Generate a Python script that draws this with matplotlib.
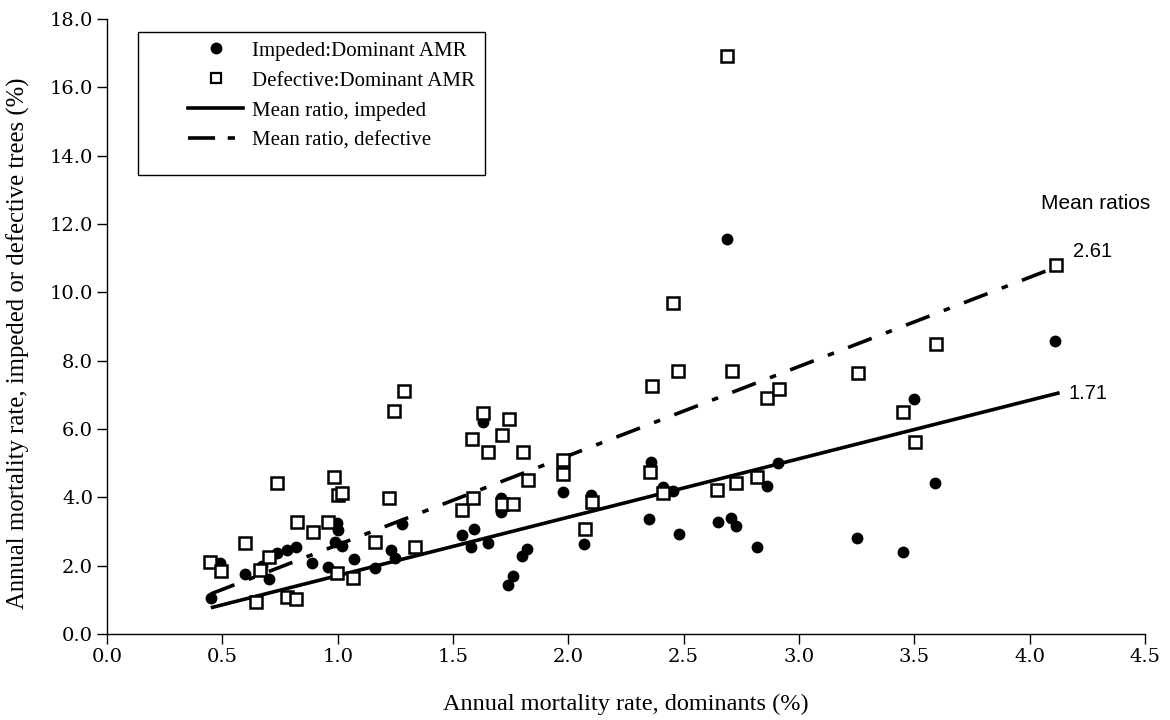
import matplotlib
matplotlib.use("Agg")
import matplotlib.pyplot as plt
from matplotlib.lines import Line2D
from matplotlib.patches import Rectangle
import numpy as np

# --- data -------------------------------------------------------------
imp_x = [0.45, 0.49, 0.60, 0.67, 0.70, 0.735, 0.78, 0.82, 0.89, 0.96,
         0.99, 1.02, 0.995, 1.00, 1.07, 1.16, 1.23, 1.25, 1.28, 1.54,
         1.59, 1.58, 1.65, 1.63, 1.71, 1.71, 1.82, 1.80, 1.76, 1.74,
         1.975, 2.07, 2.10, 2.36, 2.35, 2.41, 2.455, 2.48, 2.65, 2.705,
         2.725, 2.69, 2.82, 2.86, 2.91, 3.25, 3.45, 3.50, 3.59, 4.11]
imp_y = [1.04, 2.09, 1.76, 1.99, 1.61, 2.36, 2.46, 2.56, 2.07, 1.95,
         2.70, 2.58, 3.24, 3.04, 2.21, 1.92, 2.46, 2.22, 3.22, 2.90,
         3.06, 2.54, 2.67, 6.21, 3.97, 3.58, 2.48, 2.28, 1.70, 1.43,
         4.15, 2.63, 4.07, 5.03, 3.37, 4.29, 4.19, 2.93, 3.29, 3.39,
         3.17, 11.56, 2.56, 4.34, 5.01, 2.80, 2.41, 6.88, 4.41, 8.57]

def_x = [0.447, 0.493, 0.598, 0.663, 0.646, 0.70, 0.735, 0.78, 0.82, 0.822,
         0.894, 0.96, 0.985, 1.003, 1.02, 0.995, 1.068, 1.162, 1.224, 1.244,
         1.287, 1.335, 1.54, 1.581, 1.588, 1.628, 1.653, 1.711, 1.711, 1.744,
         1.759, 1.802, 1.823, 1.975, 1.975, 2.072, 2.101, 2.354, 2.361, 2.411,
         2.455, 2.474, 2.646, 2.69, 2.708, 2.725, 2.816, 2.862, 2.913, 3.254,
         3.449, 3.502, 3.593, 4.114]
def_y = [2.12, 1.85, 2.67, 1.87, 0.95, 2.24, 4.41, 1.07, 1.02, 3.27,
         2.98, 3.29, 4.61, 4.07, 4.14, 1.78, 1.63, 2.70, 3.97, 6.54,
         7.12, 2.56, 3.63, 5.71, 3.97, 6.46, 5.33, 5.82, 3.82, 6.28,
         3.80, 5.32, 4.51, 5.09, 4.68, 3.06, 3.87, 4.73, 7.26, 4.12,
         9.68, 7.71, 4.21, 16.93, 7.71, 4.41, 4.59, 6.90, 7.17, 7.65,
         6.49, 5.63, 8.49, 10.80]

line_x = [0.45, 4.13]
ratio_impeded = 1.71
ratio_defective = 2.61

x_ticks = [0.0, 0.5, 1.0, 1.5, 2.0, 2.5, 3.0, 3.5, 4.0, 4.5]
y_ticks = [0.0, 2.0, 4.0, 6.0, 8.0, 10.0, 12.0, 14.0, 16.0, 18.0]

# --- figure -----------------------------------------------------------
fig = plt.figure(figsize=(11.7, 7.2), dpi=100)
ax = fig.add_axes([0.0915, 0.1194, 0.8871, 0.8542])

lx = np.array(line_x)
ax.plot(lx, ratio_impeded * lx, color="black", lw=2.6, solid_capstyle="butt",
        zorder=2)
ax.plot(lx, ratio_defective * lx, color="black", lw=2.6,
        linestyle=(0, (7.0, 4.2, 1.8, 4.2)), dash_capstyle="butt", zorder=2)

ax.plot(imp_x, imp_y, linestyle="none", marker="o", markersize=7.5,
        markerfacecolor="black", markeredgecolor="black", zorder=3)
ax.plot(def_x, def_y, linestyle="none", marker="s", markersize=8.3,
        markerfacecolor="white", markeredgecolor="black", markeredgewidth=1.8,
        zorder=4)

ax.set_xlim(0, 4.5)
ax.set_ylim(0, 18)
ax.set_xticks(x_ticks)
ax.set_yticks(y_ticks)
ax.set_xticklabels([f"{v:.1f}" for v in x_ticks])
ax.set_yticklabels([f"{v:.1f}" for v in y_ticks])
for lab in ax.get_xticklabels() + ax.get_yticklabels():
    lab.set_fontfamily("DejaVu Serif")
    lab.set_fontsize(14)
ax.tick_params(direction="out", length=7, width=1, color="black", pad=3)
ax.spines["top"].set_visible(False)
ax.spines["right"].set_visible(False)
ax.spines["left"].set_linewidth(1)
ax.spines["bottom"].set_linewidth(1)

ax.set_xlabel("Annual mortality rate, dominants (%)", family="Liberation Serif",
              fontsize=17.5)
ax.set_ylabel("Annual mortality rate, impeded or defective trees (%)",
              family="Liberation Serif", fontsize=17.8)
ax.xaxis.set_label_coords(0.5, -0.097)
ax.yaxis.set_label_coords(-0.074, 0.472)

ax.text(4.05, 12.6, "Mean ratios", family="Liberation Sans", fontsize=15,
        va="center", ha="left")
ax.text(4.19, 11.2, f"{ratio_defective:.2f}", family="Liberation Sans",
        fontsize=14.5, va="center", ha="left")
ax.text(4.17, 7.05, f"{ratio_impeded:.2f}", family="Liberation Sans",
        fontsize=14.5, va="center", ha="left")

# legend box (drawn separately to match the reference padding)
ax.add_patch(Rectangle((0.0299, 0.746), 0.334, 0.233, transform=ax.transAxes,
                       facecolor="white", edgecolor="black", lw=1.0, zorder=5))

handles = [
    Line2D([], [], linestyle="none", marker="o", markersize=7.5,
           markerfacecolor="black", markeredgecolor="black"),
    Line2D([], [], linestyle="none", marker="s", markersize=7,
           markerfacecolor="white", markeredgecolor="black", markeredgewidth=1.6),
    Line2D([], [], color="black", lw=2.6),
    Line2D([], [], color="black", lw=2.6, linestyle=(0, (7.5, 3.5, 2.0, 3.5)),
           dash_capstyle="butt"),
]
labels = ["Impeded:Dominant AMR", "Defective:Dominant AMR",
          "Mean ratio, impeded", "Mean ratio, defective"]
leg = ax.legend(handles, labels, loc="upper left", bbox_to_anchor=(0.078, 0.964),
                borderaxespad=0, frameon=False,
                prop={"family": "Liberation Serif", "size": 15},
                handlelength=2.65, handletextpad=0.43, labelspacing=0.5,
                borderpad=0)
leg.set_zorder(6)

fig.savefig("out.png", dpi=100)
